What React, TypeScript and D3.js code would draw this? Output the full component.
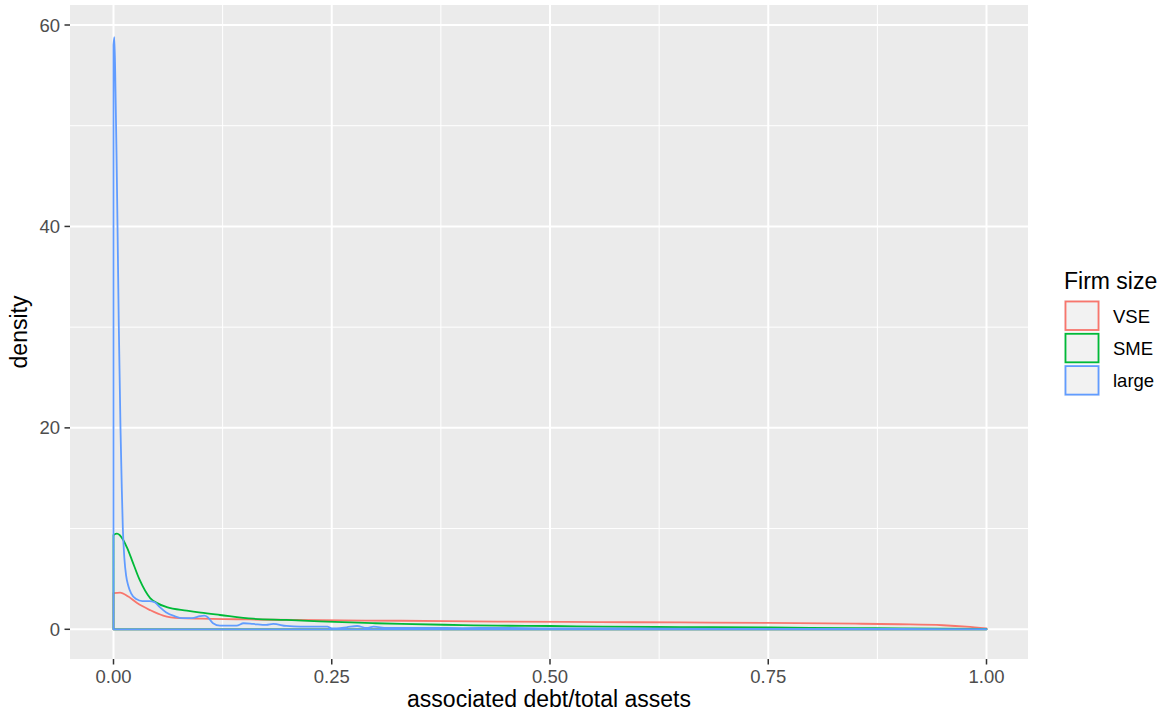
import React, { useEffect, useRef } from 'react';
import * as d3 from 'd3';

// density estimates, one x grid per firm size
const vseX = [0, 0.0075, 0.017, 0.027, 0.042, 0.057, 0.076, 0.1, 0.141, 0.179, 0.236, 0.33, 0.44, 0.557, 0.65, 0.75, 0.85, 0.9, 0.95, 0.977, 1.0];
const vseY = [3.6, 3.65, 3.25, 2.6, 1.9, 1.35, 1.1, 1.05, 1.0, 0.95, 0.9, 0.85, 0.77, 0.72, 0.68, 0.64, 0.56, 0.5, 0.4, 0.26, 0.08];

const smeX = [0, 0.004, 0.011, 0.016, 0.021, 0.03, 0.042, 0.05, 0.061, 0.084, 0.1, 0.122, 0.16, 0.198, 0.236, 0.3, 0.33, 0.4, 0.44, 0.5, 0.56, 0.65, 0.75, 0.85, 0.9, 1.0];
const smeY = [9.37, 9.5, 8.9, 8.0, 6.9, 4.9, 3.1, 2.6, 2.2, 1.85, 1.65, 1.42, 1.05, 0.93, 0.78, 0.6, 0.53, 0.42, 0.36, 0.33, 0.26, 0.22, 0.18, 0.12, 0.1, 0.03];

const largeX = [0, 0.001, 0.0023, 0.0035, 0.0046, 0.0061, 0.008, 0.0095, 0.0107, 0.0125, 0.0145, 0.017, 0.02, 0.026, 0.033, 0.041, 0.047, 0.053, 0.06, 0.07, 0.079, 0.09, 0.099, 0.104, 0.108, 0.114, 0.122, 0.141, 0.149, 0.16, 0.175, 0.183, 0.198, 0.214, 0.245, 0.25, 0.267, 0.279, 0.29, 0.298, 0.313, 0.33, 0.36, 0.4, 0.44, 0.5, 0.6, 0.7, 0.8, 0.9, 1.0];
const largeY = [58.0, 58.8, 53.4, 47, 40, 30, 20, 14, 10, 7, 5.3, 4.3, 3.6, 3.0, 2.8, 2.8, 2.7, 2.2, 1.7, 1.3, 1.1, 1.1, 1.3, 1.35, 1.2, 0.6, 0.36, 0.36, 0.6, 0.53, 0.43, 0.53, 0.33, 0.26, 0.26, 0.08, 0.2, 0.33, 0.13, 0.26, 0.13, 0.13, 0.15, 0.12, 0.15, 0.1, 0.08, 0.05, 0.04, 0.03, 0.02];

const groups = ['VSE', 'SME', 'large'];
const colors = ['#F8766D', '#00BA38', '#619CFF'];
const xTicks = [0, 0.25, 0.5, 0.75, 1.0];
const xMinor = [0.125, 0.375, 0.625, 0.875];
const yTicks = [0, 20, 40, 60];
const yMinor = [10, 30, 50];

const font = 'Liberation Sans, Arial, Helvetica, sans-serif';

function DensityChart() {
    const ref = useRef<SVGSVGElement>(null);

    useEffect(() => {
        const svg = d3.select(ref.current);
        svg.selectAll('*').remove();

        const panel = { left: 70, right: 1028, top: 5, bottom: 659 };
        const x = d3.scaleLinear().domain([0, 1]).range([113.5, 986.5]);
        const y = d3.scaleLinear().domain([0, 60]).range([629.3, 25]);

        svg.append('rect')
            .attr('x', panel.left).attr('y', panel.top)
            .attr('width', panel.right - panel.left)
            .attr('height', panel.bottom - panel.top)
            .attr('fill', '#EBEBEB');

        const grid = svg.append('g');
        xMinor.forEach(v => grid.append('line')
            .attr('x1', x(v)).attr('x2', x(v)).attr('y1', panel.top).attr('y2', panel.bottom)
            .attr('stroke', '#fff').attr('stroke-width', 1));
        yMinor.forEach(v => grid.append('line')
            .attr('y1', y(v)).attr('y2', y(v)).attr('x1', panel.left).attr('x2', panel.right)
            .attr('stroke', '#fff').attr('stroke-width', 1));
        xTicks.forEach(v => grid.append('line')
            .attr('x1', x(v)).attr('x2', x(v)).attr('y1', panel.top).attr('y2', panel.bottom)
            .attr('stroke', '#fff').attr('stroke-width', 2));
        yTicks.forEach(v => grid.append('line')
            .attr('y1', y(v)).attr('y2', y(v)).attr('x1', panel.left).attr('x2', panel.right)
            .attr('stroke', '#fff').attr('stroke-width', 2));

        // density outlines, closed down to the baseline like geom_density
        const series = [
            vseX.map((v, i) => [v, vseY[i]]),
            smeX.map((v, i) => [v, smeY[i]]),
            largeX.map((v, i) => [v, largeY[i]]),
        ];
        const line = d3.line<number[]>()
            .x(d => x(d[0]))
            .y(d => y(d[1]))
            .curve(d3.curveMonotoneX);
        series.forEach((pts, i) => {
            const curve = line(pts) as string;
            const path = `M${x(0)},${y(0)}L${curve.slice(1)}L${x(1)},${y(0)}Z`;
            svg.append('path')
                .attr('d', path)
                .attr('fill', 'none')
                .attr('stroke', colors[i])
                .attr('stroke-width', 1.8)
                .attr('stroke-linejoin', 'round');
        });

        // axes
        const xAxis = svg.append('g');
        xTicks.forEach(v => {
            xAxis.append('line')
                .attr('x1', x(v)).attr('x2', x(v)).attr('y1', panel.bottom).attr('y2', panel.bottom + 5.5)
                .attr('stroke', '#333').attr('stroke-width', 1.5);
            xAxis.append('text')
                .attr('x', x(v)).attr('y', 683)
                .attr('text-anchor', 'middle')
                .attr('font-family', font).attr('font-size', 18.5).attr('fill', '#4D4D4D')
                .text(d3.format('.2f')(v));
        });
        const yAxis = svg.append('g');
        yTicks.forEach(v => {
            yAxis.append('line')
                .attr('x1', panel.left - 5.5).attr('x2', panel.left).attr('y1', y(v)).attr('y2', y(v))
                .attr('stroke', '#333').attr('stroke-width', 1.5);
            yAxis.append('text')
                .attr('x', 60).attr('y', y(v) + 6.5)
                .attr('text-anchor', 'end')
                .attr('font-family', font).attr('font-size', 18.5).attr('fill', '#4D4D4D')
                .text(v);
        });

        svg.append('text')
            .attr('x', (panel.left + panel.right) / 2).attr('y', 707)
            .attr('text-anchor', 'middle')
            .attr('font-family', font).attr('font-size', 23).attr('fill', '#000')
            .text('associated debt/total assets');
        svg.append('text')
            .attr('transform', `translate(27,${(panel.top + panel.bottom) / 2}) rotate(-90)`)
            .attr('text-anchor', 'middle')
            .attr('font-family', font).attr('font-size', 23).attr('fill', '#000')
            .text('density');

        // legend
        const legend = svg.append('g');
        legend.append('text')
            .attr('x', 1064).attr('y', 289)
            .attr('font-family', font).attr('font-size', 23).attr('fill', '#000')
            .text('Firm size');
        groups.forEach((g, i) => {
            const top = 300 + i * 32.3;
            legend.append('rect')
                .attr('x', 1064).attr('y', top).attr('width', 36).attr('height', 31.5)
                .attr('fill', '#F2F2F2');
            legend.append('rect')
                .attr('x', 1065.5).attr('y', top + 1.5).attr('width', 33).attr('height', 28.5)
                .attr('fill', 'none').attr('stroke', colors[i]).attr('stroke-width', 1.8);
            legend.append('text')
                .attr('x', 1113).attr('y', top + 22.5)
                .attr('font-family', font).attr('font-size', 18.5).attr('fill', '#000')
                .text(g);
        });
    }, []);

    return <svg ref={ref} width={1169} height={711} style={{ position: 'absolute', left: 0, top: 0, background: '#fff' }} />;
}

export default function App() {
    return <DensityChart />;
}
